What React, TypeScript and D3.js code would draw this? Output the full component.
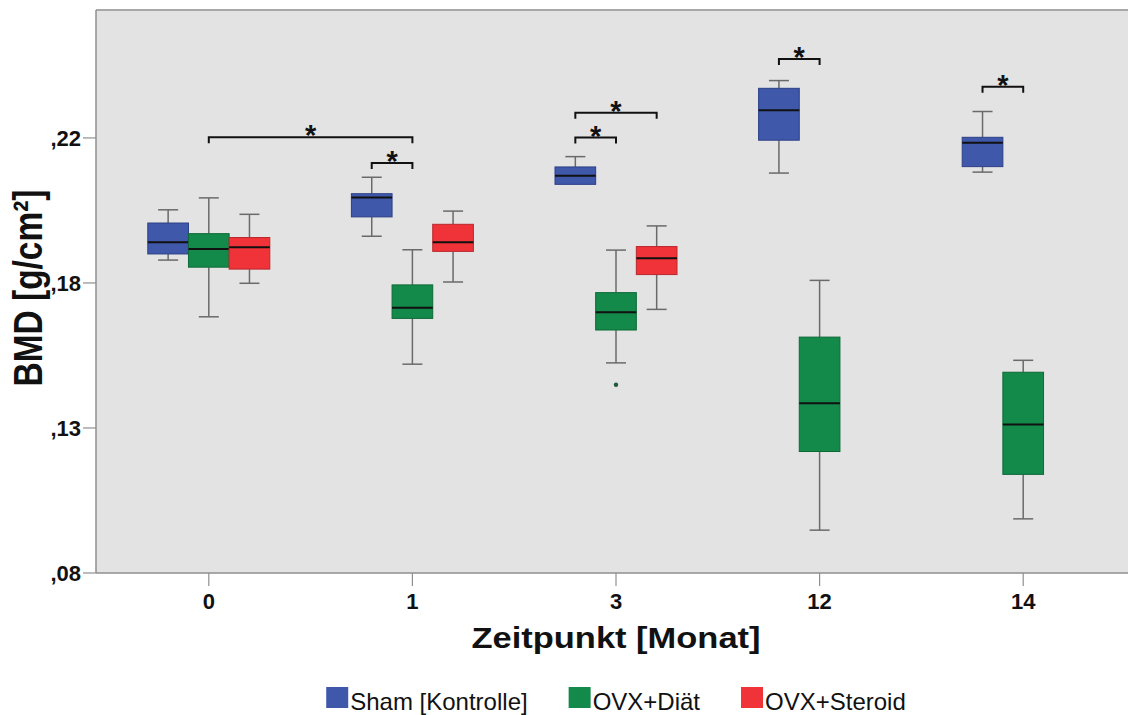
import React, { useEffect, useRef } from "react";
import * as d3 from "d3";

const timepoints = ["0", "1", "3", "12", "14"];
const groups = ["Sham [Kontrolle]", "OVX+Diät", "OVX+Steroid"];
const groupColors = ["#3f58aa", "#13894a", "#ef3339"];
const groupStroke = ["#2c3f86", "#0d6a37", "#b8282c"];

// [whiskerLow, q1, median, q3, whiskerHigh] per timepoint
const shamBoxes: (number[] | null)[] = [
  [0.1821, 0.184, 0.1876, 0.1936, 0.1977],
  [0.1895, 0.1955, 0.2015, 0.2027, 0.2078],
  [0.2056, 0.2056, 0.2083, 0.211, 0.2142],
  [0.2091, 0.2193, 0.2286, 0.2354, 0.2378],
  [0.2094, 0.2111, 0.2185, 0.2202, 0.2282],
];
const dietBoxes: (number[] | null)[] = [
  [0.1645, 0.1799, 0.1855, 0.1903, 0.2014],
  [0.1498, 0.164, 0.1673, 0.1744, 0.1853],
  [0.1502, 0.1604, 0.1659, 0.172, 0.1852],
  [0.0983, 0.1227, 0.1377, 0.1582, 0.1758],
  [0.1018, 0.1156, 0.1311, 0.1473, 0.151],
];
const steroidBoxes: (number[] | null)[] = [
  [0.1749, 0.1793, 0.1861, 0.1891, 0.1963],
  [0.1753, 0.1848, 0.1876, 0.1932, 0.1973],
  [0.1668, 0.1776, 0.1827, 0.1863, 0.1927],
  null,
  null,
];
const outliers = [{ time: "3", group: 1, value: 0.1434 }];

const brackets = [
  { t1: "0", g1: 1, t2: "1", g2: 1, value: 0.2202 },
  { t1: "1", g1: 0, t2: "1", g2: 1, value: 0.2122 },
  { t1: "3", g1: 0, t2: "3", g2: 2, value: 0.2278 },
  { t1: "3", g1: 0, t2: "3", g2: 1, value: 0.2201 },
  { t1: "12", g1: 0, t2: "12", g2: 1, value: 0.2445 },
  { t1: "14", g1: 0, t2: "14", g2: 1, value: 0.2359 },
];

const yTickValues = [0.085, 0.13, 0.175, 0.22];
const yTickLabels = [",08", ",13", ",18", ",22"];
const yDomain = [0.085, 0.2597];

const FONT = "'Liberation Sans', Arial, sans-serif";

export default function App() {
  const ref = useRef<SVGSVGElement | null>(null);

  useEffect(() => {
    const svg = d3.select(ref.current);
    svg.selectAll("*").remove();

    const plotL = 96,
      plotR = 1128,
      plotT = 10,
      plotB = 573;

    const x = d3.scaleBand<string>().domain(timepoints).range([107, 1125]);
    const gx = d3
      .scaleBand<number>()
      .domain([0, 1, 2])
      .range([-61, 61]);
    const y = d3.scaleLinear().domain(yDomain).range([plotB, plotT]);

    const cx = (t: string, g: number) =>
      (x(t) as number) + x.bandwidth() / 2 + (gx(g) as number) + gx.bandwidth() / 2;

    // background
    svg
      .append("rect")
      .attr("x", plotL)
      .attr("y", plotT)
      .attr("width", plotR - plotL)
      .attr("height", plotB - plotT)
      .attr("fill", "#e3e3e3");

    // borders
    const borderColor = "#8f8f8f";
    svg.append("line").attr("x1", plotL).attr("x2", plotR).attr("y1", plotT).attr("y2", plotT)
      .attr("stroke", "#a8a8a8").attr("stroke-width", 2);
    svg.append("line").attr("x1", plotL).attr("x2", plotL).attr("y1", plotT).attr("y2", plotB)
      .attr("stroke", borderColor).attr("stroke-width", 1.5);
    svg.append("line").attr("x1", plotL).attr("x2", plotR).attr("y1", plotB).attr("y2", plotB)
      .attr("stroke", borderColor).attr("stroke-width", 1.5);

    // y ticks
    yTickValues.forEach((v, i) => {
      svg.append("line").attr("x1", plotL - 13).attr("x2", plotL).attr("y1", y(v)).attr("y2", y(v))
        .attr("stroke", borderColor).attr("stroke-width", 1.2);
      svg.append("text").attr("x", 81).attr("y", y(v) + 8).attr("text-anchor", "end")
        .attr("font-family", FONT).attr("font-weight", "bold").attr("font-size", 22)
        .attr("fill", "#111").text(yTickLabels[i]);
    });

    // x ticks
    timepoints.forEach((t) => {
      const xc = (x(t) as number) + x.bandwidth() / 2;
      svg.append("line").attr("x1", xc).attr("x2", xc).attr("y1", plotB).attr("y2", plotB + 13)
        .attr("stroke", borderColor).attr("stroke-width", 1.2);
      svg.append("text").attr("x", xc).attr("y", 609).attr("text-anchor", "middle")
        .attr("font-family", FONT).attr("font-weight", "bold").attr("font-size", 22)
        .attr("fill", "#111").text(t);
    });

    // axis titles
    svg.append("text").attr("x", 616).attr("y", 648).attr("text-anchor", "middle")
      .attr("font-family", FONT).attr("font-weight", "bold").attr("font-size", 30)
      .attr("textLength", 289).attr("lengthAdjust", "spacingAndGlyphs")
      .attr("fill", "#111").text("Zeitpunkt [Monat]");
    svg.append("text")
      .attr("transform", `translate(42,288) rotate(-90)`)
      .attr("text-anchor", "middle")
      .attr("font-family", FONT).attr("font-weight", "bold").attr("font-size", 40)
      .attr("textLength", 197).attr("lengthAdjust", "spacingAndGlyphs")
      .attr("fill", "#111")
      .text("BMD [g/cm²]");

    // boxes
    const allBoxes = [shamBoxes, dietBoxes, steroidBoxes];
    const boxW = gx.bandwidth();
    const capW = 20;
    allBoxes.forEach((series, g) => {
      series.forEach((b, i) => {
        if (!b) return;
        const t = timepoints[i];
        const c = cx(t, g);
        const [lo, q1, med, q3, hi] = b;
        const grp = svg.append("g");
        grp.append("line").attr("x1", c).attr("x2", c).attr("y1", y(hi)).attr("y2", y(q3))
          .attr("stroke", "#6a6a6a").attr("stroke-width", 1.5);
        grp.append("line").attr("x1", c).attr("x2", c).attr("y1", y(q1)).attr("y2", y(lo))
          .attr("stroke", "#6a6a6a").attr("stroke-width", 1.5);
        grp.append("line").attr("x1", c - capW / 2).attr("x2", c + capW / 2).attr("y1", y(hi)).attr("y2", y(hi))
          .attr("stroke", "#6a6a6a").attr("stroke-width", 1.5);
        if (lo < q1) {
          grp.append("line").attr("x1", c - capW / 2).attr("x2", c + capW / 2).attr("y1", y(lo)).attr("y2", y(lo))
            .attr("stroke", "#6a6a6a").attr("stroke-width", 1.5);
        }
        grp.append("rect").attr("x", c - boxW / 2).attr("y", y(q3)).attr("width", boxW)
          .attr("height", y(q1) - y(q3)).attr("fill", groupColors[g])
          .attr("stroke", groupStroke[g]).attr("stroke-width", 1);
        grp.append("line").attr("x1", c - boxW / 2).attr("x2", c + boxW / 2).attr("y1", y(med)).attr("y2", y(med))
          .attr("stroke", "#111").attr("stroke-width", 2);
      });
    });

    outliers.forEach((o) => {
      svg.append("circle").attr("cx", cx(o.time, o.group)).attr("cy", y(o.value)).attr("r", 2.2)
        .attr("fill", "#1f5a3a");
    });

    // significance brackets
    brackets.forEach((b) => {
      const x1 = cx(b.t1, b.g1);
      const x2 = cx(b.t2, b.g2);
      const yy = y(b.value);
      svg.append("path")
        .attr("d", `M${x1},${yy + 6}V${yy}H${x2}V${yy + 6}`)
        .attr("fill", "none").attr("stroke", "#111").attr("stroke-width", 2);
      svg.append("text").attr("x", (x1 + x2) / 2).attr("y", yy + 8).attr("text-anchor", "middle")
        .attr("font-family", FONT).attr("font-weight", "bold").attr("font-size", 29)
        .attr("fill", "#111").text("*");
    });

    // legend
    const legend = svg.append("g");
    const sq = 22;
    const gap = 41;
    let cursor = 0;
    const items: { g: any; w: number }[] = [];
    groups.forEach((name, i) => {
      const it = legend.append("g");
      it.append("rect").attr("x", 0).attr("y", 687).attr("width", sq).attr("height", 21)
        .attr("fill", groupColors[i]);
      const txt = it.append("text").attr("x", sq + 2).attr("y", 710)
        .attr("font-family", FONT).attr("font-size", 24).attr("fill", "#111").text(name);
      const w = sq + 2 + (txt.node() as SVGTextElement).getComputedTextLength();
      items.push({ g: it, w });
    });
    const total = items.reduce((s, d) => s + d.w, 0) + gap * (items.length - 1);
    cursor = 616 - total / 2;
    items.forEach((d) => {
      d.g.attr("transform", `translate(${cursor},0)`);
      cursor += d.w + gap;
    });
  }, []);

  return (
    <svg
      ref={ref}
      width={1128}
      height={715}
      style={{ position: "absolute", left: 0, top: 0, background: "#fff" }}
    />
  );
}
